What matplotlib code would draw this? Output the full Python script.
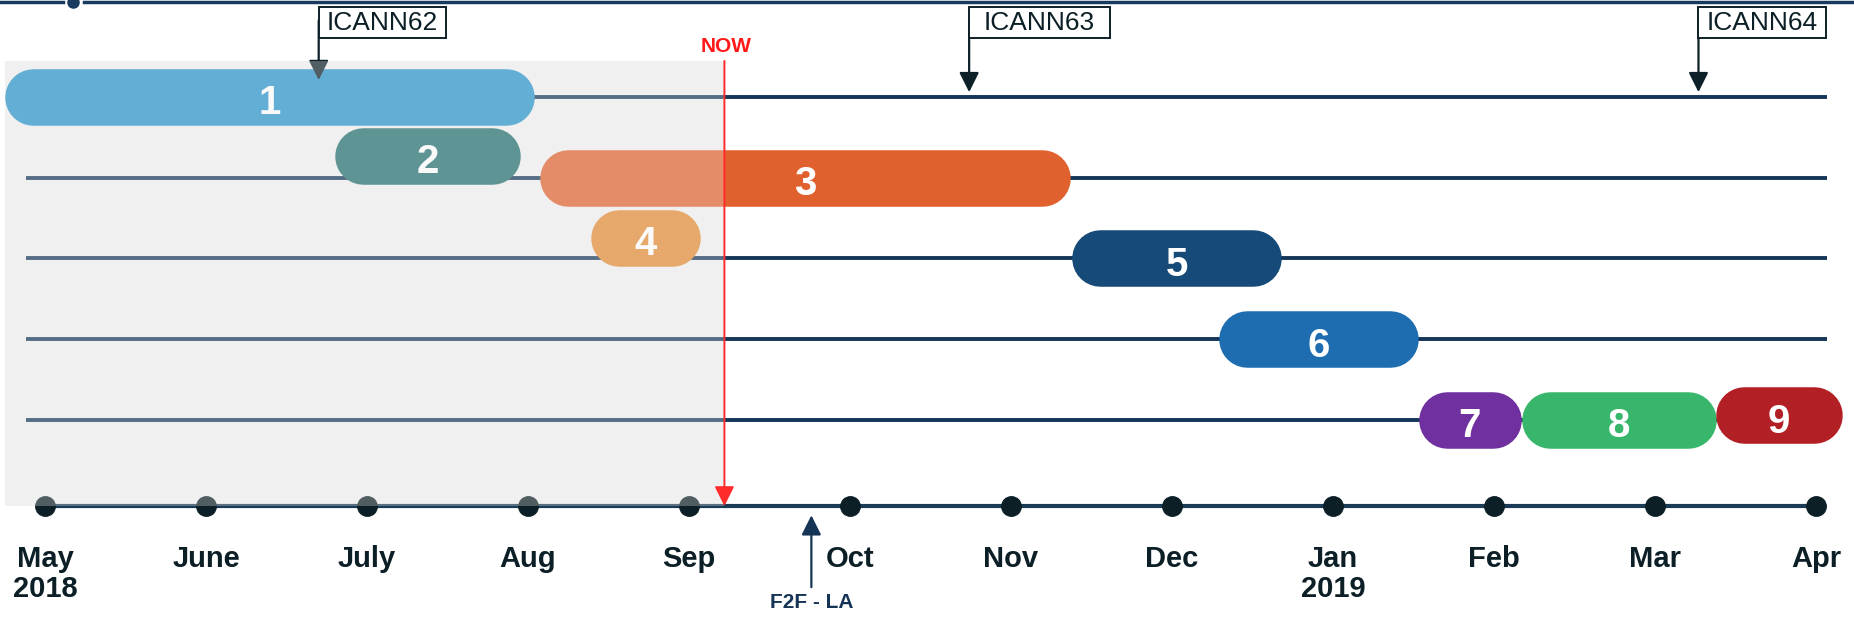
import matplotlib
matplotlib.use("Agg")
import matplotlib.pyplot as plt
from matplotlib.patches import Rectangle

plt.rcParams['font.family'] = ['Liberation Sans', 'DejaVu Sans']

# months on the timeline (0 = May 2018 ... 11 = Apr 2019)
months = ['May\n2018', 'June', 'July', 'Aug', 'Sep', 'Oct', 'Nov', 'Dec',
          'Jan\n2019', 'Feb', 'Mar', 'Apr']
month_pos = list(range(len(months)))

# work items: start / end in months, lane (row), colour
bar_labels = ['1', '2', '3', '4', '5', '6', '7', '8', '9']
bar_start = [-0.25, 1.80, 3.07, 3.39, 6.38, 7.29, 8.53, 9.17, 10.38]
bar_end = [3.04, 2.95, 6.37, 4.07, 7.68, 8.53, 9.17, 10.38, 11.16]
bar_lane = [0, 0.73, 1, 1.74, 2, 3, 4, 4, 3.94]
bar_colors = ['#2792c8', '#1f6d6d', '#e0612e', '#e28b32', '#164a78',
              '#1e6db0', '#7030a0', '#38b76c', '#b22025']

rows = [0, 1, 2, 3, 4]

# meetings
icann_names = ['ICANN62', 'ICANN63', 'ICANN64']
icann_pos = [1.70, 5.74, 10.27]
now_pos = 4.22
f2f_pos = 4.76

navy = '#143658'
dark = '#0c1f26'
axis_y = 5.065

fig = plt.figure(figsize=(18.54, 6.19), dpi=100)
ax = fig.add_axes([0, 0, 1, 1])
xmin, xmax = -0.2795, 11.236
ymin, ymax = -1.2012, 6.4644
ax.set_xlim(xmin, xmax)
ax.set_ylim(ymax, ymin)
ax.axis('off')

px_x = 1854 / (xmax - xmin)   # pixels per month
px_y = 619 / (ymax - ymin)    # pixels per lane

# past period shading
ax.add_patch(Rectangle((-0.25, -0.446), now_pos + 0.25, axis_y + 0.446,
                       facecolor='#f0f0f0', edgecolor='none', zorder=0))

# row lines
for r in rows:
    ax.plot([-0.12, 11.07], [r, r], color=navy, lw=2.8, zorder=1,
            solid_capstyle='butt')

# month axis
ax.plot([month_pos[0], month_pos[-1]], [axis_y, axis_y], color='#1b3a55',
        lw=3, zorder=2)
ax.plot(month_pos, [axis_y] * len(month_pos), 'o', color=dark,
        markersize=14, zorder=2)
for m, lab in zip(month_pos, months):
    ax.text(m, 5.55, lab, ha='center', va='top', fontsize=21,
            fontweight='bold', color=dark, linespacing=1.1)

# bars as thick lines with round caps (pill shape)
h = 0.70
h_px = h * px_y
cap = (h_px / 2) / px_x
for lab, s, e, ln, c in zip(bar_labels, bar_start, bar_end, bar_lane, bar_colors):
    ax.plot([s + cap, e - cap], [ln, ln], color=c, lw=h_px * 0.72,
            solid_capstyle='round', zorder=3)
    ax.text((s + e) / 2, ln + 0.03, lab, ha='center', va='center_baseline',
            fontsize=29, fontweight='bold', color='white', zorder=4)

# ICANN meeting markers
tips = [-0.21, -0.06, -0.06]
widths = [0.79, 0.876, 0.795]
for name, p, t, w in zip(icann_names, icann_pos, tips, widths):
    ax.annotate('', xy=(p, t), xytext=(p, -0.95),
                arrowprops=dict(arrowstyle='-|>,head_length=0.6,head_width=0.3',
                                mutation_scale=20, color='#0d2028', lw=1.6,
                                shrinkA=0, shrinkB=0), zorder=4)
    ax.add_patch(Rectangle((p, -1.115), w, 0.385, facecolor='white',
                           edgecolor='#0d2028', lw=1.4, zorder=6))
    ax.text(p + w / 2, -0.915, name, ha='center', va='center', fontsize=19,
            color=dark, zorder=7)

# faded overlay on the past
ax.add_patch(Rectangle((-0.25, -0.446), now_pos + 0.25, axis_y + 0.446,
                       facecolor='#f0f0f0', edgecolor='none', alpha=0.3,
                       zorder=5))

# NOW marker
ax.annotate('', xy=(now_pos, axis_y), xytext=(now_pos, -0.446),
            arrowprops=dict(arrowstyle='-|>,head_length=0.6,head_width=0.3',
                            mutation_scale=20, color='#ff2a2a', lw=1.4,
                            shrinkA=0, shrinkB=0), zorder=6)
ax.text(now_pos + 0.01, -0.62, 'NOW', ha='center', va='center', fontsize=15,
        fontweight='bold', color='#ff1a1a', zorder=6)

# F2F meeting
ax.annotate('', xy=(f2f_pos, 5.18), xytext=(f2f_pos, 6.07),
            arrowprops=dict(arrowstyle='-|>,head_length=0.6,head_width=0.3',
                            mutation_scale=20, color='#163556', lw=1.6,
                            shrinkA=0, shrinkB=0), zorder=6)
ax.text(f2f_pos, 6.14, 'F2F - LA', ha='center', va='top', fontsize=15,
        fontweight='bold', color='#163556')

# top border line with small dot
ax.plot([xmin, 0.11], [-1.18, -1.18], color='#173a5e', lw=2.5)
ax.plot([0.24, xmax], [-1.18, -1.18], color='#173a5e', lw=2.5)
ax.plot([0.174], [-1.18], 'o', color='#173a5e', markersize=8, clip_on=False)

fig.savefig('out.png', dpi=100)
